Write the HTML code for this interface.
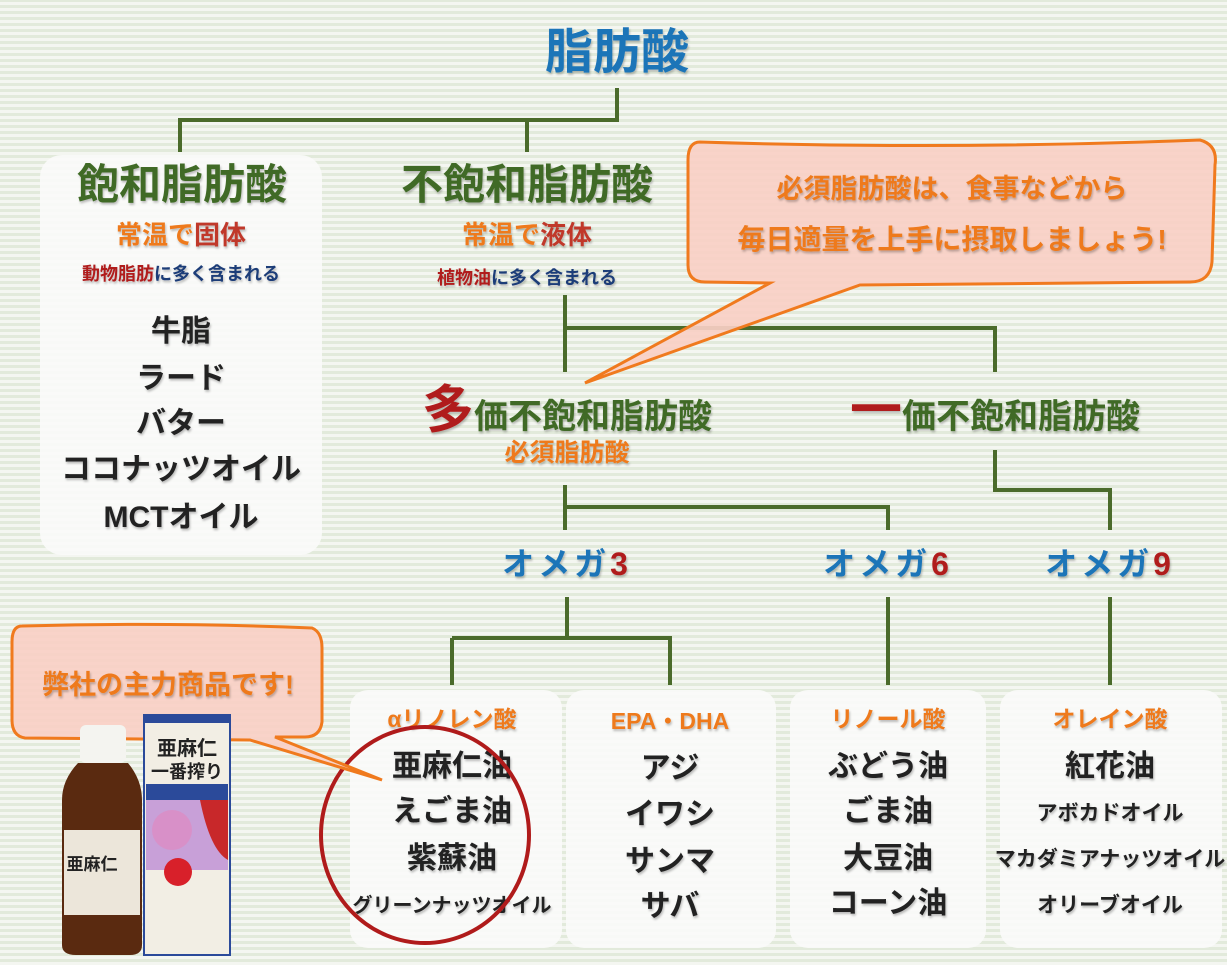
<!DOCTYPE html>
<html><head><meta charset="utf-8"><style>
body{margin:0;width:1227px;height:965px;overflow:hidden;background:#eef2ea;background-image:repeating-linear-gradient(0deg,#f4f6f1 0 3px,#e2eadb 3px 6px);}
svg{position:absolute;left:0;top:0}
text{font-family:"Liberation Sans","Noto Sans CJK JP",sans-serif;font-weight:bold;text-anchor:middle}
</style></head><body>
<svg width="1227" height="965" viewBox="0 0 1227 965">
<defs><filter id="sh"><feDropShadow dx="1" dy="2" stdDeviation="1" flood-color="#000" flood-opacity="0.25"/></filter></defs>
<rect x="40" y="155" width="282" height="400" rx="22" fill="#fbfbf9" opacity="0.9"/>
<rect x="350" y="690" width="212" height="258" rx="18" fill="#fbfbf9" opacity="0.9"/>
<rect x="566" y="690" width="210" height="258" rx="18" fill="#fbfbf9" opacity="0.9"/>
<rect x="790" y="690" width="196" height="258" rx="18" fill="#fbfbf9" opacity="0.9"/>
<rect x="1000" y="690" width="222" height="258" rx="18" fill="#fbfbf9" opacity="0.9"/>
<g stroke="#4b6b2b" stroke-width="4" fill="none">
<path d="M617 88V120H180V152M527 120V152"/>
<path d="M565 295V372M565 328H995V372"/>
<path d="M565 485V530M565 507H888V530"/>
<path d="M995 450V490H1110V530"/>
<path d="M567 597V638M452 638H670V685M452 638V685"/>
<path d="M888 597V685M1110 597V685"/>
</g>
<g filter="url(#sh)">
<text x="617" y="68" font-size="48" fill="#1f75b8">脂肪酸</text>
<text x="182" y="199" font-size="42" fill="#3f6b26">飽和脂肪酸</text>
<text x="181" y="244" font-size="26" fill="#ee7a1e">常温で<tspan fill="#c0392b">固体</tspan></text>
<text x="181" y="280" font-size="18" fill="#1e3c78"><tspan fill="#b01b1b">動物脂肪</tspan>に多く含まれる</text>
<g font-size="30" fill="#222">
<text x="181" y="341">牛脂</text><text x="181" y="388">ラード</text><text x="181" y="433">バター</text>
<text x="181" y="479">ココナッツオイル</text><text x="181" y="527">MCTオイル</text></g>
<text x="527" y="199" font-size="42" fill="#3f6b26">不飽和脂肪酸</text>
<text x="527" y="244" font-size="26" fill="#ee7a1e">常温で<tspan fill="#c0392b">液体</tspan></text>
<text x="527" y="284" font-size="18" fill="#1e3c78"><tspan fill="#b01b1b">植物油</tspan>に多く含まれる</text>
<text x="567" y="428" font-size="34" fill="#3f6b26"><tspan font-size="52" fill="#b01b1b">多</tspan>価不飽和脂肪酸</text>
<text x="567" y="461" font-size="25" fill="#ee7a1e">必須脂肪酸</text>
<text x="995" y="428" font-size="34" fill="#3f6b26"><tspan font-size="52" fill="#b01b1b">一</tspan>価不飽和脂肪酸</text>
<text x="567" y="575" font-size="32" fill="#1f75b8" letter-spacing="4">オメガ<tspan fill="#b01b1b">3</tspan></text>
<text x="888" y="575" font-size="32" fill="#1f75b8" letter-spacing="4">オメガ<tspan fill="#b01b1b">6</tspan></text>
<text x="1110" y="575" font-size="32" fill="#1f75b8" letter-spacing="4">オメガ<tspan fill="#b01b1b">9</tspan></text>
<g font-size="23" fill="#ee7a1e">
<text x="452" y="727">αリノレン酸</text><text x="670" y="729">EPA・DHA</text>
<text x="888" y="727">リノール酸</text><text x="1110" y="727">オレイン酸</text></g>
<g font-size="30" fill="#222">
<text x="452" y="776">亜麻仁油</text><text x="452" y="821">えごま油</text><text x="452" y="868">紫蘇油</text><text x="452" y="912" font-size="20">グリーンナッツオイル</text>
<text x="670" y="778">アジ</text><text x="670" y="824">イワシ</text><text x="670" y="871">サンマ</text><text x="670" y="916">サバ</text>
<text x="888" y="776">ぶどう油</text><text x="888" y="821">ごま油</text><text x="888" y="868">大豆油</text><text x="888" y="913">コーン油</text>
<text x="1110" y="776">紅花油</text><text x="1110" y="820" font-size="21">アボカドオイル</text><text x="1110" y="866" font-size="21">マカダミアナッツオイル</text><text x="1110" y="912" font-size="21">オリーブオイル</text></g>
</g>
<ellipse cx="425" cy="835" rx="104" ry="108" fill="none" stroke="#b01b1b" stroke-width="4"/>
<path d="M700 142 Q950 150 1200 140 Q1218 145 1215 165 L1212 262 Q1210 282 1190 282 L860 285 L585 383 L770 283 L705 282 Q688 282 688 265 L688 160 Q688 142 700 142Z" fill="#f8cfc6" fill-opacity="0.92" stroke="#f07a1e" stroke-width="3"/>
<g filter="url(#sh)" fill="#ee7a1e">
<text x="952" y="198" font-size="27">必須脂肪酸は、食事などから</text>
<text x="952" y="249" font-size="28">毎日適量を上手に摂取しましょう!</text></g>
<path d="M22 626 Q170 622 312 628 Q322 632 322 648 L322 722 Q320 737 305 737 L275 737 L382 780 L250 740 L25 738 Q12 736 12 720 L12 642 Q12 626 22 626Z" fill="#f8cfc6" fill-opacity="0.92" stroke="#f07a1e" stroke-width="3"/>
<text x="168" y="694" font-size="27" fill="#ee7a1e" filter="url(#sh)">弊社の主力商品です!</text>
<rect x="80" y="725" width="46" height="38" rx="6" fill="#f4f4f0"/>
<path d="M78 763 H128 Q142 780 142 800 V945 Q142 955 130 955 H76 Q62 955 62 945 V800 Q62 780 78 763Z" fill="#5a2a10"/>
<rect x="64" y="830" width="76" height="85" fill="#ece6da"/>
<text x="92" y="870" font-size="17" fill="#222">亜麻仁</text>
<rect x="144" y="715" width="86" height="240" fill="#f2eee4" stroke="#2b4a9a" stroke-width="2"/>
<rect x="144" y="715" width="86" height="8" fill="#2b4a9a"/>
<text x="187" y="755" font-size="20" fill="#222">亜麻仁</text>
<text x="187" y="778" font-size="18" fill="#222">一番搾り</text>
<rect x="146" y="784" width="82" height="16" fill="#2b4a9a"/>
<path d="M146 800 H228 V870 H146Z" fill="#c8a0d8"/>
<circle cx="172" cy="830" r="20" fill="#d890c8"/><path d="M200 800 L228 800 L228 860 Q210 850 200 800Z" fill="#c8282a"/>
<circle cx="178" cy="872" r="14" fill="#d8202a"/>
</svg>
</body></html>
